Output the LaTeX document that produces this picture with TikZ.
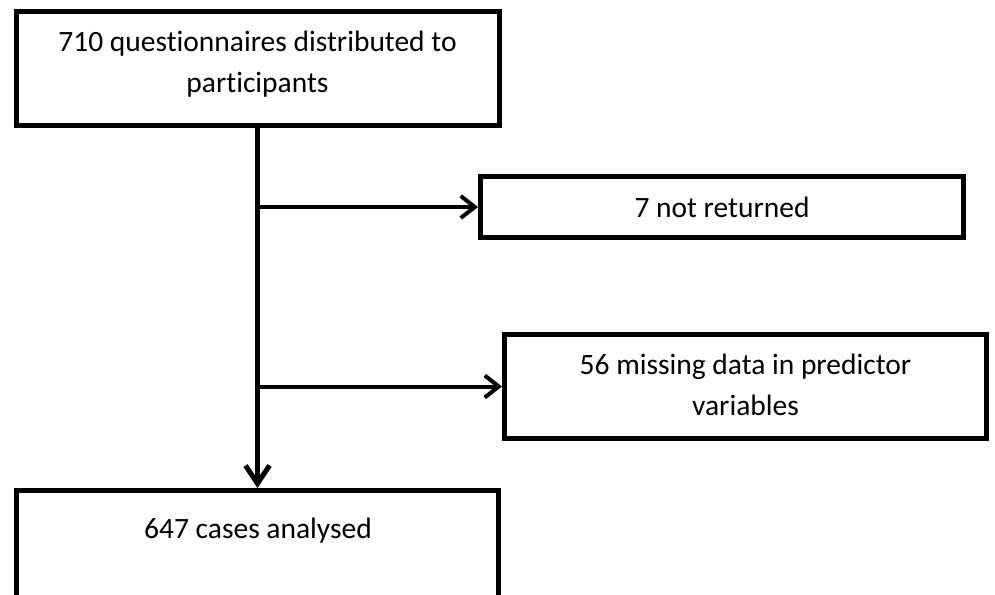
\documentclass[tikz,border=0pt]{standalone}
\usepackage{fontspec}
\setmainfont{Carlito}[Ligatures=NoCommon]
\usetikzlibrary{arrows.meta}
\tikzset{
  boxnode/.style={draw=black, line width=5pt, rectangle, inner sep=0pt, fill=white},
  txt/.style={align=center, font=\fontsize{29.5}{40.5}\selectfont, inner sep=0pt},
  branch/.style={line width=4pt, -{Straight Barb[length=14pt,width=22pt]}},
  trunk/.style={line width=5pt, -{Straight Barb[length=18pt,width=24pt]}}
}
\begin{document}
\begin{tikzpicture}[x=1pt,y=-1pt]
\clip (0,0) rectangle (995,594);
\fill[white] (0,0) rectangle (995,594);
\node[boxnode, minimum width=483pt, minimum height=113pt] (b1) at (257.5,68.5) {};
\node[boxnode, minimum width=483pt, minimum height=61pt] (b2) at (722,207) {};
\node[boxnode, minimum width=482pt, minimum height=104pt] (b3) at (745.5,386.5) {};
\node[boxnode, minimum width=482pt, minimum height=130pt] (b4) at (257.5,555.5) {};
\node[txt] (t1) at (257.5,64) {710 questionnaires distributed to\\participants};
\node[txt] (t2) at (722,207) {7 not returned};
\node[txt] (t3) at (745.5,385) {56 missing data in predictor\\variables};
\node[txt] (t4) at (258,531) {647 cases analysed};
\draw[trunk] (b1.south) -- (b4.north);
\draw[branch] (b1.south |- b2.west) -- (b2.west);
\draw[branch] (b1.south |- b3.west) -- (b3.west);
\end{tikzpicture}
\end{document}
